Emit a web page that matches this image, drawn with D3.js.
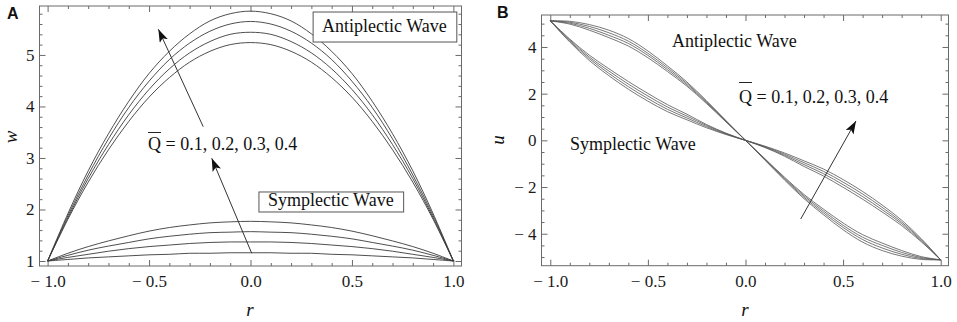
<!DOCTYPE html>
<html>
<head>
<meta charset="UTF-8">
<title>w and u profiles</title>
<script src="https://d3js.org/d3.v7.min.js"></script>
<style>
  body { margin: 0; background: #fff; }
  svg { display: block; }
</style>
</head>
<body>
<div class="canvas"></div>
<script>
  // radial coordinate, shared by every curve
  const rVals = [-1.0, -0.9, -0.8, -0.7, -0.6, -0.5, -0.4, -0.3, -0.2, -0.1, 0.0,
                 0.1, 0.2, 0.3, 0.4, 0.5, 0.6, 0.7, 0.8, 0.9, 1.0];
  const qLabels = ['0.1', '0.2', '0.3', '0.4'];

  // panel A : w(r), antiplectic wave, Q = 0.1 .. 0.4
  const wAnti = [
    [1.00, 1.81, 2.53, 3.16, 3.71, 4.18, 4.56, 4.86, 5.07, 5.20, 5.24, 5.20, 5.07, 4.86, 4.56, 4.18, 3.71, 3.16, 2.53, 1.81, 1.00],
    [1.00, 1.84, 2.60, 3.26, 3.84, 4.33, 4.73, 5.04, 5.26, 5.40, 5.44, 5.40, 5.26, 5.04, 4.73, 4.33, 3.84, 3.26, 2.60, 1.84, 1.00],
    [1.00, 1.88, 2.67, 3.37, 3.98, 4.49, 4.91, 5.23, 5.46, 5.60, 5.65, 5.60, 5.46, 5.23, 4.91, 4.49, 3.98, 3.37, 2.67, 1.88, 1.00],
    [1.00, 1.92, 2.75, 3.47, 4.10, 4.64, 5.07, 5.41, 5.66, 5.80, 5.85, 5.80, 5.66, 5.41, 5.07, 4.64, 4.10, 3.47, 2.75, 1.92, 1.00]
  ];
  // panel A : w(r), symplectic wave
  const wSym = [
    [1.00, 1.03, 1.06, 1.08, 1.10, 1.12, 1.13, 1.15, 1.15, 1.16, 1.16, 1.16, 1.15, 1.15, 1.13, 1.12, 1.10, 1.08, 1.06, 1.03, 1.00],
    [1.00, 1.07, 1.13, 1.19, 1.24, 1.28, 1.31, 1.34, 1.36, 1.37, 1.37, 1.37, 1.36, 1.34, 1.31, 1.28, 1.24, 1.19, 1.13, 1.07, 1.00],
    [1.00, 1.11, 1.21, 1.29, 1.36, 1.43, 1.48, 1.52, 1.55, 1.56, 1.57, 1.56, 1.55, 1.52, 1.48, 1.43, 1.36, 1.29, 1.21, 1.11, 1.00],
    [1.00, 1.15, 1.28, 1.39, 1.49, 1.58, 1.65, 1.70, 1.74, 1.76, 1.77, 1.76, 1.74, 1.70, 1.65, 1.58, 1.49, 1.39, 1.28, 1.15, 1.00]
  ];

  // panel B : u(r), the two bundles
  const uAnti = [
    [5.12, 5.10, 4.96, 4.72, 4.36, 3.83, 3.19, 2.50, 1.70, 0.85, 0, -0.85, -1.70, -2.50, -3.19, -3.83, -4.36, -4.72, -4.96, -5.10, -5.12],
    [5.12, 5.06, 4.88, 4.61, 4.25, 3.73, 3.11, 2.44, 1.66, 0.83, 0, -0.83, -1.66, -2.44, -3.11, -3.73, -4.25, -4.61, -4.88, -5.06, -5.12],
    [5.12, 5.02, 4.80, 4.50, 4.15, 3.64, 3.03, 2.38, 1.62, 0.81, 0, -0.81, -1.62, -2.38, -3.03, -3.64, -4.15, -4.50, -4.80, -5.02, -5.12],
    [5.12, 4.98, 4.72, 4.40, 4.04, 3.54, 2.95, 2.32, 1.58, 0.79, 0, -0.79, -1.58, -2.32, -2.95, -3.54, -4.04, -4.40, -4.72, -4.98, -5.12]
  ];
  const uSym = [
    [5.12, 4.34, 3.65, 3.07, 2.52, 2.01, 1.53, 1.12, 0.68, 0.31, 0, -0.31, -0.68, -1.12, -1.53, -2.01, -2.52, -3.07, -3.65, -4.34, -5.12],
    [5.12, 4.30, 3.57, 2.97, 2.41, 1.90, 1.43, 1.04, 0.64, 0.29, 0, -0.29, -0.64, -1.04, -1.43, -1.90, -2.41, -2.97, -3.57, -4.30, -5.12],
    [5.12, 4.25, 3.50, 2.87, 2.30, 1.79, 1.33, 0.96, 0.59, 0.27, 0, -0.27, -0.59, -0.96, -1.33, -1.79, -2.30, -2.87, -3.50, -4.25, -5.12],
    [5.12, 4.21, 3.42, 2.77, 2.19, 1.68, 1.23, 0.88, 0.54, 0.25, 0, -0.25, -0.54, -0.88, -1.23, -1.68, -2.19, -2.77, -3.42, -4.21, -5.12]
  ];

  // ticks
  const rMajor = [-1, -0.5, 0, 0.5, 1];
  const rMinor = d3.range(-10, 11).map(d => d / 10).filter(d => !rMajor.includes(d));
  const wMajor = [1, 2, 3, 4, 5];
  const wMinor = d3.range(5, 30).map(d => d / 5).filter(d => !wMajor.includes(d));
  const uMajor = [-4, -2, 0, 2, 4];
  const uMinor = d3.range(-10, 11).map(d => d / 2).filter(d => !uMajor.includes(d));

  const width = 957, height = 322;
  const SERIF = '"Liberation Serif", "Times New Roman", serif';
  const LINE = '#3a3a3a';
  const FRAME = '#6a6a6a';

  const svg = d3.select('.canvas').append('svg')
    .attr('width', width).attr('height', height);

  const minus = v => (v < 0 ? '\u2212 ' : '');
  const fmtR = d => minus(d) + Math.abs(d).toFixed(1);
  const fmtInt = d => minus(d) + Math.abs(d);

  function styleAxis(g) {
    g.select('.domain').remove();
    g.selectAll('line').attr('stroke', FRAME).attr('stroke-width', 1);
    g.attr('font-family', SERIF).attr('font-size', 17);
    g.selectAll('text').attr('fill', '#1a1a1a');
  }

  function drawFrame(x, y, xMaj, xMin, yMaj, yMin, yFmt) {
    const [x0, x1] = x.range();
    const [y0, y1] = y.range();   // y0 bottom, y1 top
    const g = svg.append('g');

    g.append('g').attr('transform', `translate(0,${y0})`)
      .call(d3.axisBottom(x).tickValues(xMaj).tickSize(-6).tickPadding(9).tickFormat(fmtR))
      .call(styleAxis);
    g.append('g').attr('transform', `translate(0,${y0})`)
      .call(d3.axisBottom(x).tickValues(xMin).tickSize(-3).tickFormat(''))
      .call(styleAxis);
    g.append('g').attr('transform', `translate(0,${y1})`)
      .call(d3.axisTop(x).tickValues(xMaj).tickSize(-6).tickFormat(''))
      .call(styleAxis);
    g.append('g').attr('transform', `translate(0,${y1})`)
      .call(d3.axisTop(x).tickValues(xMin).tickSize(-3).tickFormat(''))
      .call(styleAxis);

    g.append('g').attr('transform', `translate(${x0},0)`)
      .call(d3.axisLeft(y).tickValues(yMaj).tickSize(-6).tickPadding(5).tickFormat(yFmt))
      .call(styleAxis);
    g.append('g').attr('transform', `translate(${x0},0)`)
      .call(d3.axisLeft(y).tickValues(yMin).tickSize(-3).tickFormat(''))
      .call(styleAxis);
    g.append('g').attr('transform', `translate(${x1},0)`)
      .call(d3.axisRight(y).tickValues(yMaj).tickSize(-6).tickFormat(''))
      .call(styleAxis);
    g.append('g').attr('transform', `translate(${x1},0)`)
      .call(d3.axisRight(y).tickValues(yMin).tickSize(-3).tickFormat(''))
      .call(styleAxis);

    g.append('rect')
      .attr('x', x0).attr('y', y1)
      .attr('width', x1 - x0).attr('height', y0 - y1)
      .attr('fill', 'none').attr('stroke', FRAME).attr('stroke-width', 1);
  }

  function drawCurves(series, x, y, color, w) {
    const line = d3.line()
      .x((d, i) => x(rVals[i]))
      .y(d => y(d))
      .curve(d3.curveCatmullRom);
    svg.append('g').selectAll('path').data(series).enter()
      .append('path')
      .attr('d', d => line(d))
      .attr('fill', 'none')
      .attr('stroke', color)
      .attr('stroke-width', w);
  }

  // arrow head marker
  svg.append('defs').append('marker')
    .attr('id', 'head')
    .attr('markerUnits', 'userSpaceOnUse')
    .attr('markerWidth', 14).attr('markerHeight', 10)
    .attr('refX', 13).attr('refY', 4.5)
    .attr('orient', 'auto')
    .append('path')
    .attr('d', 'M0,0 L13,4.5 L0,9 L3,4.5 Z')
    .attr('fill', '#111');

  function arrow(x, y, from, to) {
    svg.append('line')
      .attr('x1', x(from[0])).attr('y1', y(from[1]))
      .attr('x2', x(to[0])).attr('y2', y(to[1]))
      .attr('stroke', '#333').attr('stroke-width', 1)
      .attr('marker-end', 'url(#head)');
  }

  function label(x, y, pos, txt, box) {
    const t = svg.append('text')
      .attr('x', x(pos[0])).attr('y', y(pos[1]))
      .attr('font-family', SERIF).attr('font-size', 18)
      .attr('fill', '#111')
      .text(txt);
    if (box) {
      const b = t.node().getBBox();
      svg.insert('rect', () => t.node())
        .attr('x', b.x - box[0]).attr('y', b.y - box[1])
        .attr('width', b.width + box[0] + box[2])
        .attr('height', b.height + box[1] + box[3])
        .attr('fill', '#fff').attr('stroke', '#555').attr('stroke-width', 1);
    }
    return t;
  }

  function qLabel(x, y, pos, over) {
    const t = label(x, y, pos, 'Q = ' + qLabels.join(', '));
    const qw = t.node().getSubStringLength(0, 1);
    const px = x(pos[0]), py = y(pos[1]);
    svg.append('line')
      .attr('x1', px).attr('x2', px + qw)
      .attr('y1', py - over).attr('y2', py - over)
      .attr('stroke', '#222').attr('stroke-width', 1);
  }

  function axisTitle(px, py, txt, rot) {
    svg.append('text')
      .attr('transform', `translate(${px},${py}) rotate(${rot})`)
      .attr('text-anchor', 'middle')
      .attr('font-family', SERIF).attr('font-style', 'italic')
      .attr('font-size', 19).attr('fill', '#111')
      .text(txt);
  }

  function panelTag(px, py, txt) {
    svg.append('text')
      .attr('x', px).attr('y', py)
      .attr('font-family', '"Liberation Sans", Arial, sans-serif')
      .attr('font-weight', 'bold').attr('font-size', 16).attr('fill', '#111')
      .text(txt);
  }

  /* ---------------- panel A ---------------- */
  const xA = d3.scaleLinear().domain([-1.04, 1.04]).range([39.5, 461.5]);
  const yA = d3.scaleLinear().domain([0.903, 5.95]).range([266, 6]);

  drawFrame(xA, yA, rMajor, rMinor, wMajor, wMinor, d => d);
  drawCurves(wAnti, xA, yA, LINE, 0.9);
  drawCurves(wSym, xA, yA, LINE, 0.9);

  arrow(xA, yA, [-0.233, 3.607], [-0.454, 5.498]);
  arrow(xA, yA, [0.006, 1.150], [-0.191, 2.994]);
  label(xA, yA, [0.353, 5.445], 'Antiplectic Wave', [9, 4, 10, 6]);
  label(xA, yA, [0.086, 2.068], 'Symplectic Wave', [9, -2, 10, 2]);
  qLabel(xA, yA, [-0.505, 3.155], 17.5);

  axisTitle(17, 137, 'w', -90);
  axisTitle(250, 316, 'r', 0);
  panelTag(7, 19, 'A');

  /* ---------------- panel B ---------------- */
  const xB = d3.scaleLinear().domain([-1.045, 1.04]).range([541.5, 948.5]);
  const yB = d3.scaleLinear().domain([-5.37, 5.37]).range([265.7, 15]);

  drawFrame(xB, yB, rMajor, rMinor, uMajor, uMinor, fmtInt);
  drawCurves(uAnti, xB, yB, '#555', 0.8);
  drawCurves(uSym, xB, yB, '#555', 0.8);

  arrow(xB, yB, [0.283, -3.37], [0.566, 0.83]);
  label(xB, yB, [-0.376, 4.0], 'Antiplectic Wave');
  label(xB, yB, [-0.899, -0.413], 'Symplectic Wave');
  qLabel(xB, yB, [-0.033, 1.60], 20.5);

  axisTitle(503.5, 140, 'u', -90);
  axisTitle(745, 316, 'r', 0);
  panelTag(497, 18, 'B');
</script>
</body>
</html>
